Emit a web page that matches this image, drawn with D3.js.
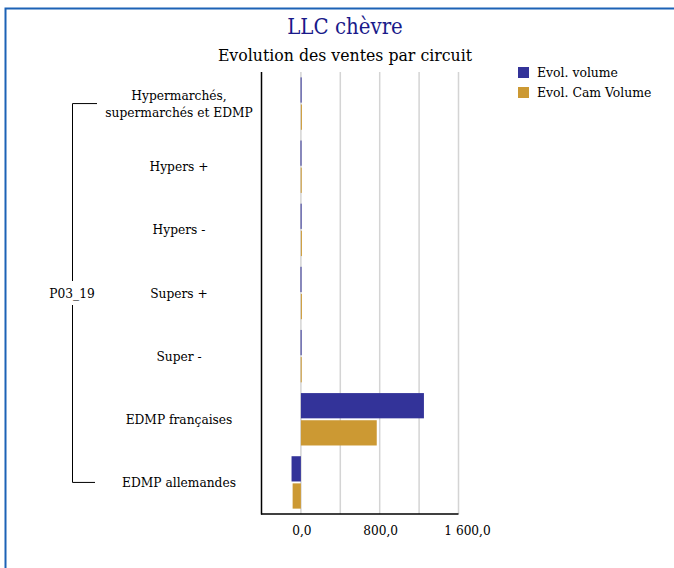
<!DOCTYPE html>
<html>
<head>
<meta charset="utf-8">
<script src="https://cdn.jsdelivr.net/npm/d3@7"></script>
<style>
  body { margin: 0; background: #fff; }
  text { font-family: "DejaVu Serif Condensed", "DejaVu Serif", serif; }
</style>
</head>
<body>
<svg width="674" height="568"></svg>
<script>
// chart data
var categories = ["Hypermarchés,|supermarchés et EDMP", "Hypers +", "Hypers -", "Supers +", "Super -", "EDMP françaises", "EDMP allemandes"];
var seriesNames = ["Evol. volume", "Evol. Cam Volume"];
var evolVolume = [-3, -4, -3, -4, -3, 1249, -95];
var evolCamVolume = [6, -2, 5, 6, -2, 770, -84];
var xTicks = [0, 800, 1600];
var groupLabel = "P03_19";

var colors = ["#333399", "#cc9933"];

var svg = d3.select("svg"),
    width = +svg.attr("width"),
    height = +svg.attr("height");

// frame
svg.append("rect")
    .attr("x", 5.5).attr("y", 8.5)
    .attr("width", width + 10).attr("height", height + 10)
    .attr("fill", "none").attr("stroke", "#1c62b6").attr("stroke-width", 2);

// titles
svg.append("text").attr("x", 345).attr("y", 34)
    .attr("text-anchor", "middle").attr("font-size", 22).attr("fill", "#1a1a8a")
    .text("LLC chèvre");
svg.append("text").attr("x", 345).attr("y", 61)
    .attr("text-anchor", "middle").attr("font-size", 17.5).attr("fill", "#000")
    .text("Evolution des ventes par circuit");

var x = d3.scaleLinear().domain([-400, 1600]).range([261.5, 458.5]);
var y = d3.scaleBand().domain(categories).range([72, 514]).paddingInner(0.17).paddingOuter(0.085);
var ySub = d3.scaleBand().domain(seriesNames).range([0, y.bandwidth()]).paddingInner(0.07);

// gridlines
svg.append("g").selectAll("line")
    .data(d3.range(0, 1601, 400))
    .join("line")
    .attr("x1", d => x(d)).attr("x2", d => x(d))
    .attr("y1", 72).attr("y2", 514)
    .attr("stroke", "#d4d4d4").attr("stroke-width", 1.5);

// bars
var rows = categories.map((c, i) => ({cat: c, values: [evolVolume[i], evolCamVolume[i]]}));
var grp = svg.append("g").selectAll("g")
    .data(rows)
    .join("g")
    .attr("transform", d => "translate(0," + y(d.cat) + ")");
grp.selectAll("rect")
    .data(d => d.values.map((v, j) => ({name: seriesNames[j], value: v, j: j})))
    .join("rect")
    .attr("x", d => x(Math.min(0, d.value)))
    .attr("width", d => Math.max(1, Math.abs(x(d.value) - x(0))))
    .attr("y", d => ySub(d.name))
    .attr("height", ySub.bandwidth())
    .attr("fill", d => colors[d.j]);

// axes lines
svg.append("line").attr("x1", 261.5).attr("x2", 261.5).attr("y1", 72).attr("y2", 514.5)
    .attr("stroke", "#000").attr("stroke-width", 1.5);
svg.append("line").attr("x1", 261).attr("x2", 458.5).attr("y1", 514).attr("y2", 514)
    .attr("stroke", "#000").attr("stroke-width", 1.5);

// x tick labels (the last one sits a bit to the right in the original)
svg.append("g").selectAll("text")
    .data(xTicks)
    .join("text")
    .attr("x", d => x(d)).attr("y", 535)
    .attr("dx", (d, i) => i === xTicks.length - 1 ? 9 : 1)
    .attr("text-anchor", "middle").attr("font-size", 13.5)
    .text(d => d3.format(",.1f")(d).replace(",", " ").replace(".", ","));

// category labels
var catLabels = svg.append("g").selectAll("text")
    .data(categories)
    .join("text")
    .attr("text-anchor", "middle").attr("font-size", 13.6)
    .attr("y", d => y(d) + y.bandwidth() / 2);
catLabels.each(function(d) {
    var lines = d.split("|");
    var t = d3.select(this);
    lines.forEach((l, k) => {
        t.append("tspan").attr("x", 179)
            .attr("dy", k === 0 ? (4.5 - (lines.length - 1) * 8.5) + "px" : "17px")
            .text(l);
    });
});

// group bracket
var yTop = y(categories[0]) + y.bandwidth() / 2,
    yBot = y(categories[categories.length - 1]) + y.bandwidth() / 2,
    yMid = (yTop + yBot) / 2;
var br = svg.append("g").attr("stroke", "#000").attr("stroke-width", 1).attr("fill", "none");
br.append("path").attr("d", "M97," + yTop + "H72.5V" + (yMid - 12));
br.append("path").attr("d", "M95," + yBot + "H72.5V" + (yMid + 12));
svg.append("text").attr("x", 72).attr("y", yMid + 4.5)
    .attr("text-anchor", "middle").attr("font-size", 13.6).text(groupLabel);

// legend
var leg = svg.append("g").selectAll("g")
    .data(seriesNames)
    .join("g")
    .attr("transform", (d, i) => "translate(518," + (67 + i * 20) + ")");
leg.append("rect").attr("width", 11).attr("height", 11).attr("fill", (d, i) => colors[i]);
leg.append("text").attr("x", 19).attr("y", 10).attr("font-size", 13.8).text(d => d);
</script>
</body>
</html>
